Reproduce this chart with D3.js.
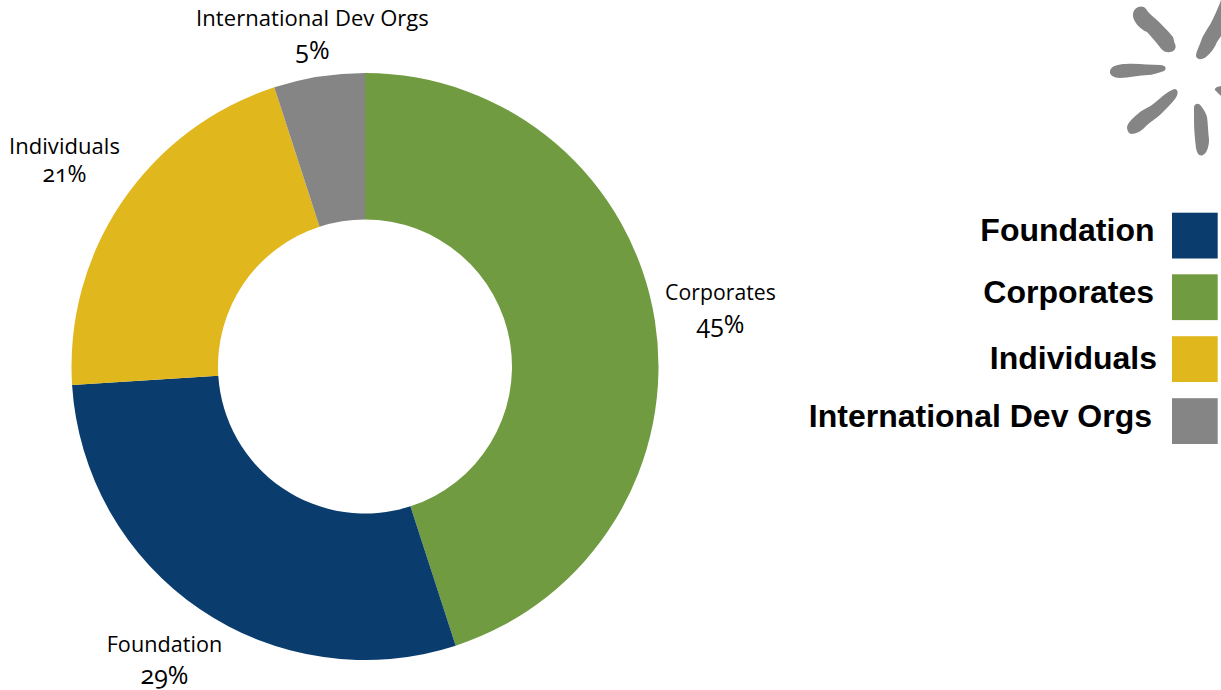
<!DOCTYPE html>
<html>
<head>
<meta charset="utf-8">
<script src="https://cdnjs.cloudflare.com/ajax/libs/d3/7.9.0/d3.min.js"></script>
<style>
html, body { margin: 0; padding: 0; background: #fff; overflow: hidden; }
svg { display: block; }
.slice-label { font-family: "Open Sans", sans-serif; letter-spacing: 0.05px; fill: #000; }
.slice-value { font-family: "Open Sans", sans-serif; fill: #000; font-variant-numeric: oldstyle-nums; font-feature-settings: "onum"; }
.legend-label { font-family: "Liberation Sans", Arial, sans-serif; font-size: 32px; font-weight: 700; fill: #000; }
</style>
</head>
<body>
<svg id="chart" width="1221" height="690"></svg>
<script>
// Share of funding by source, in drawing order clockwise from twelve o'clock
const sliceNames = ["Corporates", "Foundation", "Individuals", "International Dev Orgs"];
const sliceValues = [45, 29, 21, 5];
const sliceColors = ["#719b40", "#0a3d6e", "#e1b71e", "#858585"];

// Legend order differs from slice order
const legendNames = ["Foundation", "Corporates", "Individuals", "International Dev Orgs"];
const legendTextRight = [1154.5, 1154, 1157, 1152];
const legendTextBase = [241, 303, 369, 427];
const legendBoxTop = [212.7, 274.3, 336.2, 398.2];

// Caption anchor points for each slice: name baseline and value baseline
const labelX = [720.5, 164.5, 64.5, 312.5];
const labelNameY = [300, 652, 154, 26];
const labelValueY = [333, 684, 182, 59];
const labelNameSize = [21.2, 21.6, 22, 22];
const labelValueSize = [25, 25, 23, 25];

// Brand mark strokes in the upper right corner
const markStrokes = [
  "M1133,14 C1134,7 1142,4 1146,9 C1149,14 1154,17 1158,21 C1164,27 1170,33 1173,37 C1174,40 1174,42 1175,44 C1177,48 1174,52 1170,52 C1165,53 1162,50 1159,46 C1155,41 1151,36 1147,32 C1141,30 1132,21 1133,14 Z",
  "M1221,0 L1220,3 C1217,10 1214,17 1211,23 C1208,28 1203,35 1201,41 C1199,47 1196,52 1196,56 C1197,60 1202,60 1206,57 C1211,53 1215,47 1217,42 L1221,36 Z",
  "M1110,71 C1111,66 1118,64 1126,64 C1136,63 1150,65 1160,65 C1166,65 1167,69 1164,71 C1158,73 1152,75 1148,75 C1140,75 1128,78 1120,78 C1114,78 1109,75 1110,71 Z",
  "M1127,127 C1128,122 1134,117 1140,112 C1146,108 1152,106 1158,100 C1164,95 1170,90 1175,89 C1179,90 1178,95 1175,99 C1171,104 1166,109 1161,114 C1157,118 1150,122 1146,126 C1142,131 1136,134 1131,134 C1128,133 1127,130 1127,127 Z",
  "M1194,107 C1195,103 1199,103 1201,106 C1204,110 1206,113 1207,117 C1208,124 1208,131 1209,140 C1209,146 1207,153 1203,155 C1199,157 1197,153 1196,148 C1195,140 1194,130 1194,122 Z",
  "M1221,86 L1217,87 C1215,88 1214,90 1216,91 C1218,93 1220,95 1221,96 Z"
];

const cx = 365, cy = 366.5, outerR = 293.5, innerR = 147;

const svg = d3.select("#chart");

const color = d3.scaleOrdinal().domain(sliceNames).range(sliceColors);

const pie = d3.pie()
  .value((d, i) => sliceValues[i])
  .sort(null);

const arc = d3.arc().innerRadius(innerR).outerRadius(outerR);

// Ring
svg.append("g")
  .attr("transform", `translate(${cx},${cy})`)
  .selectAll("path")
  .data(pie(sliceNames))
  .join("path")
  .attr("d", arc)
  .attr("fill", d => color(d.data));

// Slice captions: name over percentage
const captions = svg.append("g")
  .selectAll("g")
  .data(sliceNames)
  .join("g")
  .attr("text-anchor", "middle");

captions.append("text")
  .attr("class", "slice-label")
  .attr("x", (d, i) => labelX[i])
  .attr("y", (d, i) => labelNameY[i])
  .style("font-size", (d, i) => labelNameSize[i] + "px")
  .text(d => d);

captions.append("text")
  .attr("class", "slice-value")
  .attr("x", (d, i) => labelX[i])
  .attr("y", (d, i) => labelValueY[i])
  .style("font-size", (d, i) => labelValueSize[i] + "px")
  .text((d, i) => sliceValues[i] + "%");

// Legend
const legend = svg.append("g")
  .selectAll("g")
  .data(legendNames)
  .join("g");

legend.append("rect")
  .attr("x", 1172)
  .attr("y", (d, i) => legendBoxTop[i])
  .attr("width", 45.7)
  .attr("height", 45.8)
  .attr("fill", d => color(d));

legend.append("text")
  .attr("class", "legend-label")
  .attr("text-anchor", "end")
  .attr("x", (d, i) => legendTextRight[i])
  .attr("y", (d, i) => legendTextBase[i])
  .text(d => d);

// Brand mark
svg.append("g")
  .selectAll("path")
  .data(markStrokes)
  .join("path")
  .attr("d", d => d)
  .attr("fill", "#858585");
</script>
</body>
</html>
